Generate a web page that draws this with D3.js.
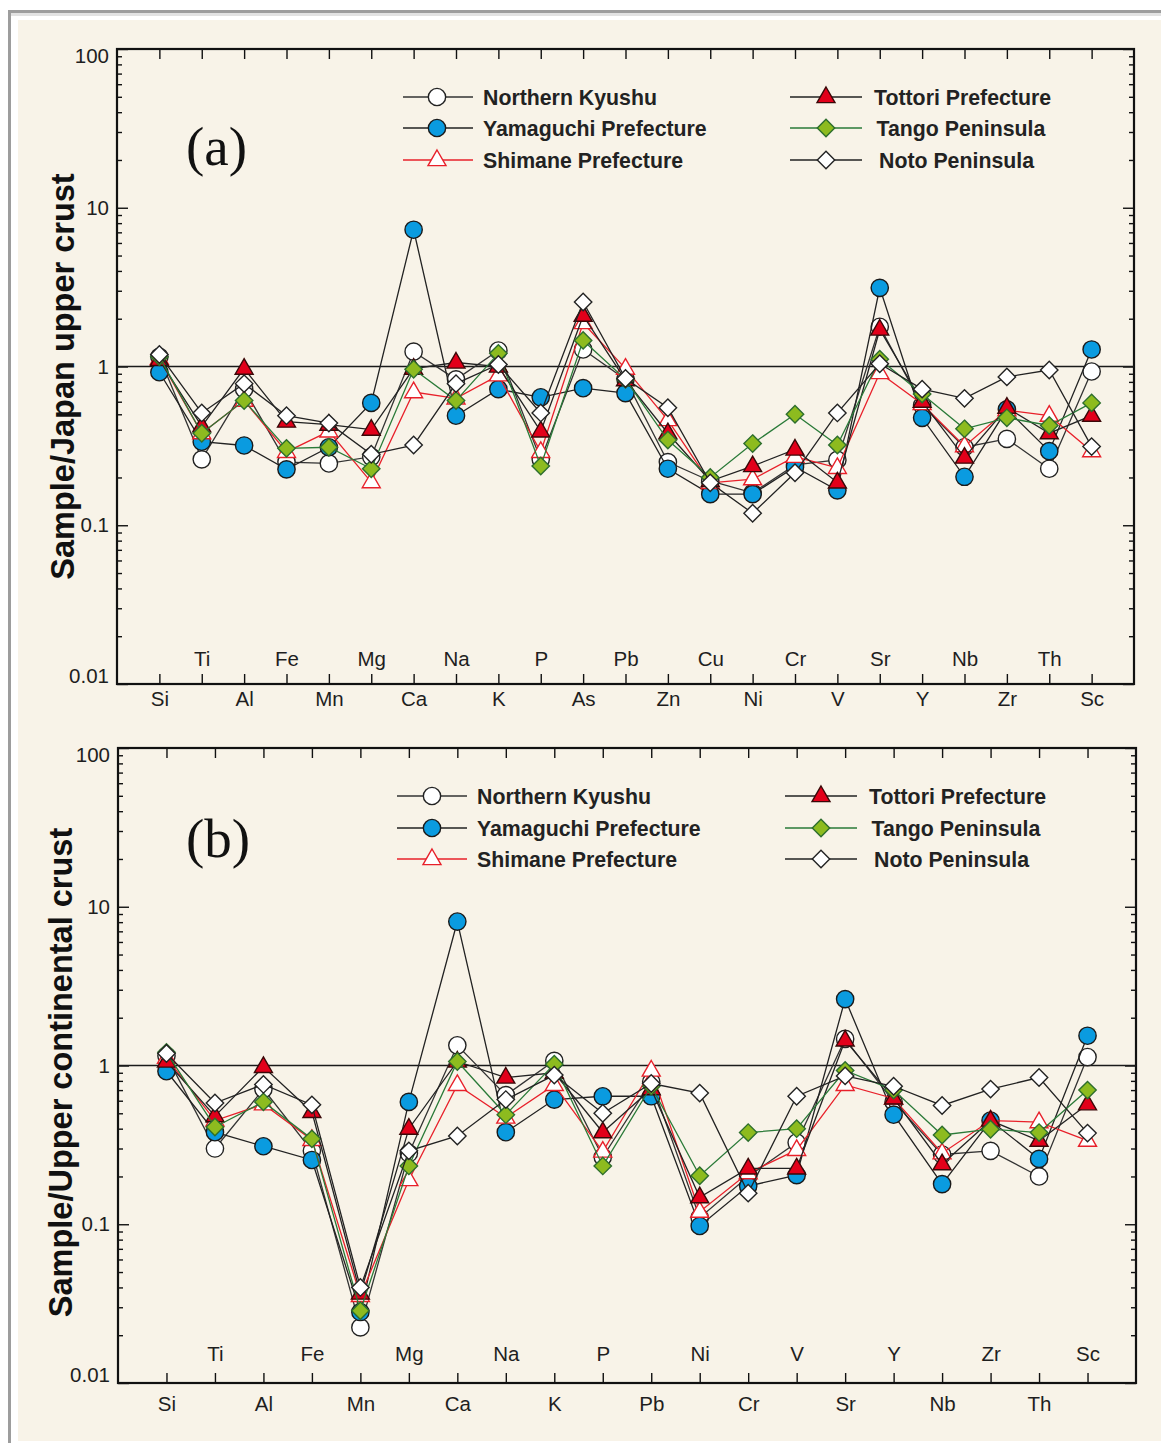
<!DOCTYPE html>
<html>
<head>
<meta charset="utf-8">
<script src="https://cdn.jsdelivr.net/npm/d3@7"></script>
<style>
  body { margin: 0; background: #fff; }
  svg { display: block; }
</style>
</head>
<body>
<svg id="chart"></svg>
<script>
let width = 1161;
let height = 1443;

const elementsA = ["Si","Ti","Al","Fe","Mn","Mg","Ca","Na","K","P","As","Pb","Zn","Cu","Ni","Cr","V","Sr","Y","Nb","Zr","Th","Sc"];
const elementsB = ["Si","Ti","Al","Fe","Mn","Mg","Ca","Na","K","P","Pb","Ni","Cr","V","Sr","Y","Nb","Zr","Th","Sc"];

const seriesNames = ["Northern Kyushu","Yamaguchi Prefecture","Shimane Prefecture","Tottori Prefecture","Tango Peninsula","Noto Peninsula"];

// panel (a): sample / Japan upper crust
const kyushuA    = [1.15,0.26,0.72,0.25,0.245,0.27,1.24,0.83,1.26,0.26,1.28,0.83,0.25,0.19,0.16,0.24,0.258,1.78,0.57,0.31,0.35,0.227,0.93];
const yamaguchiA = [0.92,0.336,0.318,0.225,0.31,0.59,7.27,0.49,0.72,0.64,0.73,0.68,0.227,0.157,0.157,0.233,0.166,3.13,0.475,0.202,0.537,0.293,1.28];
const shimaneA   = [1.12,0.38,0.61,0.29,0.39,0.187,0.69,0.63,0.88,0.29,1.88,0.97,0.46,0.185,0.195,0.27,0.23,0.91,0.58,0.315,0.53,0.49,0.293];
const tottoriA   = [1.1,0.42,0.97,0.45,0.43,0.40,0.97,1.06,1.0,0.39,2.09,0.82,0.38,0.19,0.236,0.30,0.186,1.71,0.60,0.267,0.55,0.38,0.49];
const tangoA     = [1.15,0.38,0.61,0.305,0.31,0.227,0.96,0.61,1.21,0.236,1.46,0.83,0.344,0.2,0.327,0.50,0.32,1.11,0.67,0.405,0.475,0.425,0.59];
const notoA      = [1.19,0.51,0.78,0.49,0.44,0.28,0.32,0.78,1.03,0.51,2.55,0.84,0.55,0.185,0.119,0.214,0.51,1.04,0.72,0.63,0.86,0.95,0.313];

// panel (b): sample / upper continental crust
const kyushuB    = [1.15,0.30,0.71,0.29,0.0224,0.28,1.34,0.65,1.07,0.265,0.79,0.11,0.2,0.327,1.47,0.59,0.275,0.29,0.2,1.13];
const yamaguchiB = [0.92,0.38,0.31,0.254,0.028,0.59,8.07,0.38,0.61,0.64,0.64,0.0975,0.174,0.204,2.62,0.49,0.179,0.45,0.258,1.54];
const shimaneB   = [1.12,0.45,0.57,0.34,0.0354,0.19,0.755,0.47,0.755,0.287,0.93,0.12,0.21,0.294,0.755,0.62,0.28,0.45,0.44,0.336];
const tottoriB   = [1.06,0.48,0.98,0.51,0.0366,0.40,1.06,0.84,0.9,0.38,0.71,0.148,0.225,0.225,1.44,0.62,0.239,0.45,0.336,0.57];
const tangoB     = [1.21,0.41,0.59,0.345,0.0285,0.233,1.06,0.49,1.02,0.233,0.74,0.202,0.378,0.40,0.93,0.70,0.365,0.397,0.378,0.70];
const notoB      = [1.19,0.58,0.76,0.565,0.040,0.29,0.36,0.61,0.87,0.50,0.77,0.67,0.157,0.64,0.86,0.74,0.56,0.71,0.84,0.375];

const yTicks = [0.01,0.1,1,10,100];
const yTickLabels = ["0.01","0.1","1","10","100"];

const styles = [
  {shape:"circle",   fill:"#ffffff", stroke:"#222",    line:"#333"},
  {shape:"circle",   fill:"#0a9be0", stroke:"#1a1a1a", line:"#222"},
  {shape:"triangle", fill:"#ffffff", stroke:"#e8202a", line:"#e8202a"},
  {shape:"triangle", fill:"#e2001a", stroke:"#3a0808", line:"#222"},
  {shape:"diamond",  fill:"#8dbb1f", stroke:"#2d6e2d", line:"#2a7a38"},
  {shape:"diamond",  fill:"#ffffff", stroke:"#222",    line:"#222"}
];

function markerPath(shape){
  if(shape=="circle") return d3.symbol(d3.symbolCircle, 235)();
  if(shape=="triangle") return "M0,-10L9,5.6L-9,5.6Z";
  return "M0,-8.7L8.7,0L0,8.7L-8.7,0Z";
}

var svg = d3.select("#chart")
  .attr("width", width)
  .attr("height", height);

svg.append("rect").attr("width", width).attr("height", height).attr("fill", "#fff");
svg.append("rect").attr("x", 8).attr("y", 10).attr("width", width).attr("height", 3).attr("fill", "#9d9d9d");
svg.append("rect").attr("x", 8).attr("y", 13).attr("width", width).attr("height", 3).attr("fill", "#e2e2e2");
svg.append("rect").attr("x", 8).attr("y", 10).attr("width", 3).attr("height", height).attr("fill", "#9d9d9d");
svg.append("rect").attr("x", 18).attr("y", 20).attr("width", width - 18).attr("height", 1421).attr("fill", "#f8f3e8");

function drawPanel(p){
  let cats = p.cats;
  let xScale = d3.scaleLinear().domain([-1, cats.length]).range([p.left, p.right]);
  let yScale = d3.scaleLog().domain([0.01, 100]).range([p.bottom, p.top]);
  let g = svg.append("g");

  let minor = [];
  [0.01,0.1,1,10].forEach(function(d){ for(let k=2;k<10;k++) minor.push(d*k); });

  // inward ticks on all four sides
  let bottomAxis = d3.axisBottom(xScale).tickValues(d3.range(cats.length)).tickSize(-10).tickSizeOuter(0)
    .tickFormat(function(i){ return cats[i]; });
  let bx = g.append("g").attr("transform", "translate(0," + p.bottom + ")").call(bottomAxis);
  bx.selectAll("text")
    .attr("dy", null)
    .attr("y", function(i){ return i % 2 ? p.upLabel : p.downLabel; })
    .style("font-family", "'Liberation Sans', Arial, sans-serif")
    .style("font-size", "20.5px")
    .attr("fill", "#1e1e1e");

  g.append("g").attr("transform", "translate(0," + p.top + ")")
    .call(d3.axisTop(xScale).tickValues(d3.range(cats.length)).tickSize(-10).tickSizeOuter(0).tickFormat(""));

  let ly = g.append("g").attr("transform", "translate(" + p.left + ",0)")
    .call(d3.axisLeft(yScale).tickValues(yTicks).tickSize(-11).tickSizeOuter(0).tickPadding(8)
      .tickFormat(function(d, i){ return yTickLabels[i]; }));
  ly.selectAll("text")
    .attr("y", function(d){ return d == 100 ? 7 : (d == 0.01 ? -8 : 0); })
    .style("font-family", "'Liberation Sans', Arial, sans-serif")
    .style("font-size", "20.5px")
    .attr("fill", "#1e1e1e");
  g.append("g").attr("transform", "translate(" + p.left + ",0)")
    .call(d3.axisLeft(yScale).tickValues(minor).tickSize(-5).tickSizeOuter(0).tickFormat(""));

  g.append("g").attr("transform", "translate(" + p.right + ",0)")
    .call(d3.axisRight(yScale).tickValues(yTicks).tickSize(-11).tickSizeOuter(0).tickFormat(""));
  g.append("g").attr("transform", "translate(" + p.right + ",0)")
    .call(d3.axisRight(yScale).tickValues(minor).tickSize(-5).tickSizeOuter(0).tickFormat(""));

  g.selectAll(".domain").remove();
  g.selectAll(".tick line").attr("stroke", "#111").attr("stroke-width", 1.4);

  g.append("rect")
    .attr("x", p.left).attr("y", p.top)
    .attr("width", p.right - p.left).attr("height", p.bottom - p.top)
    .attr("fill", "none").attr("stroke", "#111").attr("stroke-width", 2.2);

  g.append("line")
    .attr("x1", p.left).attr("x2", p.right)
    .attr("y1", yScale(1)).attr("y2", yScale(1))
    .attr("stroke", "#1a1a1a").attr("stroke-width", 1.5);

  let line = d3.line().x(function(d, i){ return xScale(i); }).y(function(d){ return yScale(d); });

  p.series.forEach(function(vals, s){
    let st = styles[s];
    g.append("path").datum(vals)
      .attr("d", line)
      .attr("fill", "none")
      .attr("stroke", st.line)
      .attr("stroke-width", 1.3);
    g.selectAll(".m" + s).data(vals).enter()
      .append("path")
      .attr("class", "m" + s)
      .attr("d", markerPath(st.shape))
      .attr("transform", function(d, i){ return "translate(" + xScale(i) + "," + yScale(d) + ")"; })
      .attr("fill", st.fill)
      .attr("stroke", st.stroke)
      .attr("stroke-width", 1.4);
  });

  // legend
  seriesNames.forEach(function(name, s){
    let st = styles[s];
    let col = s < 3 ? p.legend[0] : p.legend[1];
    let y = p.top + p.legendRows[s % 3];
    g.append("line")
      .attr("x1", col.x1).attr("x2", col.x2).attr("y1", y).attr("y2", y)
      .attr("stroke", st.line).attr("stroke-width", 1.3);
    g.append("path")
      .attr("d", markerPath(st.shape))
      .attr("transform", "translate(" + col.mx + "," + y + ")")
      .attr("fill", st.fill).attr("stroke", st.stroke).attr("stroke-width", 1.4);
    g.append("text")
      .attr("x", col.tx + (s >= 3 ? (s - 3) * 2.5 : 0)).attr("y", y).attr("dy", "0.36em")
      .style("font-family", "'Liberation Sans', Arial, sans-serif")
      .style("font-size", "21.3px").style("font-weight", "bold")
      .attr("fill", "#222")
      .text(name);
  });

  g.append("text")
    .attr("x", p.labelX).attr("y", p.labelY)
    .style("font-family", "'Liberation Serif', 'Times New Roman', serif")
    .style("font-size", "55px")
    .attr("fill", "#111")
    .text(p.label);

  g.append("text")
    .attr("transform", "translate(" + p.titleX + "," + ((p.top + p.bottom) / 2 + p.titleShift) + ") rotate(-90)")
    .attr("text-anchor", "middle")
    .style("font-family", "'Liberation Sans', Arial, sans-serif")
    .style("font-size", "32.5px").style("font-weight", "bold")
    .attr("fill", "#111")
    .text(p.title);
}

drawPanel({
  cats: elementsA,
  series: [kyushuA, yamaguchiA, shimaneA, tottoriA, tangoA, notoA],
  left: 117, right: 1134, top: 49, bottom: 684,
  upLabel: -18, downLabel: 22,
  legend: [{x1:403, x2:473, mx:437, tx:483}, {x1:790, x2:862, mx:826, tx:874}],
  legendRows: [48, 79, 111],
  label: "(a)", labelX: 186, labelY: 165,
  title: "Sample/Japan upper crust", titleX: 74, titleShift: 10
});

drawPanel({
  cats: elementsB,
  series: [kyushuB, yamaguchiB, shimaneB, tottoriB, tangoB, notoB],
  left: 118, right: 1136, top: 748, bottom: 1383,
  upLabel: -22, downLabel: 28,
  legend: [{x1:397, x2:467, mx:432, tx:477}, {x1:785, x2:857, mx:821, tx:869}],
  legendRows: [48, 80, 111],
  label: "(b)", labelX: 186, labelY: 857,
  title: "Sample/Upper continental crust", titleX: 72, titleShift: 7
});
</script>
</body>
</html>
